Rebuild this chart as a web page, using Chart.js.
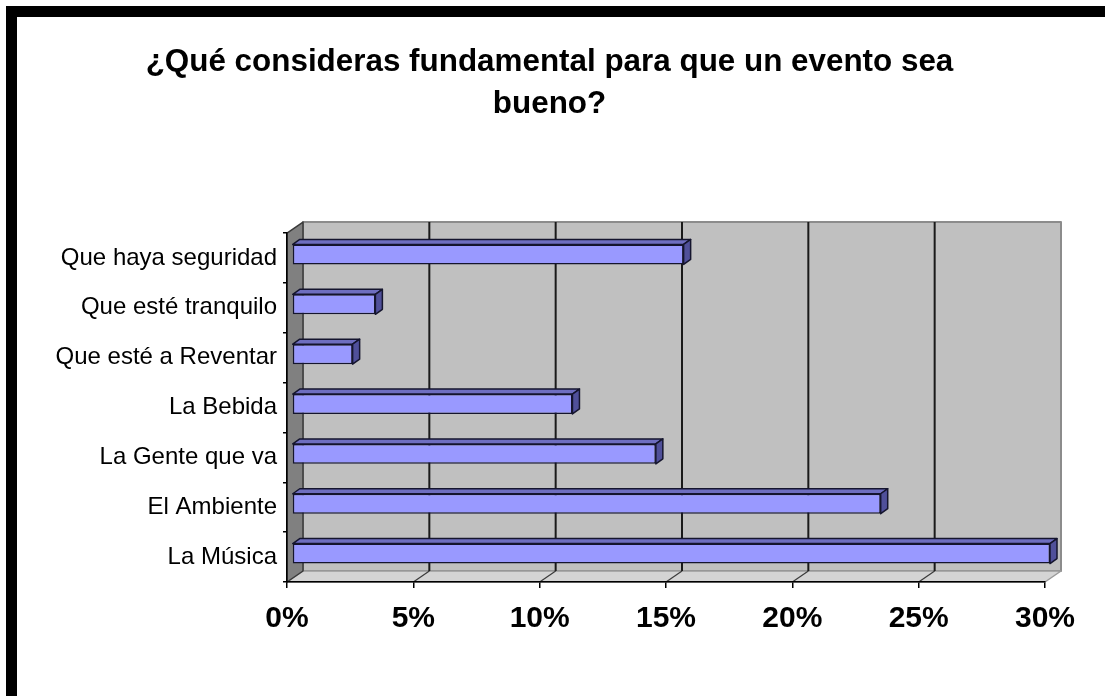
<!DOCTYPE html>
<html>
<head>
<meta charset="utf-8">
<title>Evento</title>
<script src="https://cdn.jsdelivr.net/npm/chart.js@4.4.1/dist/chart.umd.min.js"></script>
<style>
  html, body { margin: 0; padding: 0; background: #fff; }
  canvas { display: block; }
</style>
</head>
<body>
<canvas id="encuesta" width="1105" height="696"></canvas>
<script>
const tituloLineas = ['¿Qué consideras fundamental para que un evento sea', 'bueno?'];
const categorias = [
  'Que haya seguridad',
  'Que esté tranquilo',
  'Que esté a Reventar',
  'La Bebida',
  'La Gente que va',
  'El Ambiente',
  'La Música'
];
const porcentajes = [15.5, 3.3, 2.4, 11.1, 14.4, 23.3, 30.0];
const marcasX = [0, 5, 10, 15, 20, 25, 30];

const FUENTE = "'Liberation Sans', Arial, sans-serif";

// 3D look: how far the back wall sits behind the front axes,
// where the bars sit inside that depth, and how deep each bar is
const FONDO = { dx: 16, dy: -11 };
const BARRA_POS = { dx: 5, dy: -3.5 };
const BARRA_PROF = { dx: 7, dy: -5 };

function poly(ctx, pts, fill, stroke, lw) {
  ctx.beginPath();
  ctx.moveTo(pts[0][0], pts[0][1]);
  for (let i = 1; i < pts.length; i++) ctx.lineTo(pts[i][0], pts[i][1]);
  ctx.closePath();
  if (fill) { ctx.fillStyle = fill; ctx.fill(); }
  if (stroke) { ctx.strokeStyle = stroke; ctx.lineWidth = lw || 1; ctx.stroke(); }
}

function linea(ctx, x1, y1, x2, y2, color, lw) {
  ctx.beginPath();
  ctx.moveTo(x1, y1);
  ctx.lineTo(x2, y2);
  ctx.strokeStyle = color;
  ctx.lineWidth = lw;
  ctx.stroke();
}

// white page with the thick black frame on top and left
const marco = {
  id: 'marco',
  beforeDraw(chart) {
    const ctx = chart.ctx;
    ctx.save();
    ctx.fillStyle = '#ffffff';
    ctx.fillRect(0, 0, chart.width, chart.height);
    ctx.fillStyle = '#000000';
    ctx.fillRect(6, 6, chart.width - 6, 11);
    ctx.fillRect(6, 6, 11, chart.height - 6);
    ctx.restore();
  }
};

// back wall, side wall and floor with the gridlines
const paredes = {
  id: 'paredes',
  beforeDraw(chart) {
    const { ctx, chartArea: a, scales: { x } } = chart;
    const L = x.getPixelForValue(0), R = x.getPixelForValue(30);
    const T = a.top, B = a.bottom;
    const dx = FONDO.dx, dy = FONDO.dy;
    ctx.save();
    ctx.lineJoin = 'round';

    ctx.fillStyle = '#c0c0c0';
    ctx.fillRect(L + dx, T + dy, R - L, B - T);
    ctx.strokeStyle = '#8c8c8c';
    ctx.lineWidth = 2;
    ctx.strokeRect(L + dx, T + dy, R - L, B - T);

    poly(ctx, [[L, B], [R, B], [R + dx, B + dy], [L + dx, B + dy]], '#d4d4d4', '#9a9a9a', 1.5);
    poly(ctx, [[L, T], [L + dx, T + dy], [L + dx, B + dy], [L, B]], '#808080', '#3a3a3a', 1.5);

    x.ticks.forEach(t => {
      if (t.value <= 0 || t.value >= 30) return;
      const px = x.getPixelForValue(t.value);
      linea(ctx, px + dx, T + dy, px + dx, B + dy, '#1a1a1a', 2);
      linea(ctx, px, B, px + dx, B + dy, '#3a3a3a', 1.2);
    });
    ctx.restore();
  }
};

// bars are pushed into the depth and get a top and an end face
const barras3d = {
  id: 'barras3d',
  beforeDatasetsDraw(chart) {
    chart.ctx.save();
    chart.ctx.translate(BARRA_POS.dx, BARRA_POS.dy);
  },
  afterDatasetsDraw(chart) {
    const ctx = chart.ctx;
    const ddx = BARRA_PROF.dx, ddy = BARRA_PROF.dy;
    ctx.lineJoin = 'round';
    chart.getDatasetMeta(0).data.forEach(bar => {
      const { x, y, base, height } = bar.getProps(['x', 'y', 'base', 'height'], true);
      const arriba = y - height / 2, abajo = y + height / 2;
      poly(ctx, [[base, arriba], [x, arriba], [x + ddx, arriba + ddy], [base + ddx, arriba + ddy]],
        '#6e6ec0', '#15152e', 1.5);
      poly(ctx, [[x, arriba], [x + ddx, arriba + ddy], [x + ddx, abajo + ddy], [x, abajo]],
        '#50509a', '#15152e', 1.5);
    });
    ctx.restore();
  }
};

const ctx = document.getElementById('encuesta').getContext('2d');

new Chart(ctx, {
  type: 'bar',
  data: {
    labels: categorias,
    datasets: [{
      data: porcentajes,
      backgroundColor: '#9999ff',
      borderColor: '#15152e',
      borderWidth: 1.5,
      borderSkipped: false,
      barPercentage: 0.4,
      categoryPercentage: 1,
      clip: false
    }]
  },
  options: {
    indexAxis: 'y',
    responsive: false,
    devicePixelRatio: 1,
    animation: false,
    layout: {
      // near-equal side padding keeps the title centred on the page
      padding: { top: 0, right: 60, bottom: 0, left: 54 }
    },
    scales: {
      x: {
        min: 0,
        max: 30,
        afterBuildTicks: scale => {
          scale.ticks = marcasX.map(v => ({ value: v }));
        },
        afterFit: scale => { scale.height = 114; },
        grid: {
          drawOnChartArea: false,
          tickLength: 6,
          color: '#000000',
          lineWidth: 1.5
        },
        border: { color: '#000000', width: 1.5 },
        ticks: {
          color: '#000000',
          padding: 13,
          maxRotation: 0,
          font: { family: FUENTE, size: 30, weight: 'bold' },
          callback: value => value + '%'
        }
      },
      y: {
        afterFit: scale => { scale.width = 233; },
        grid: {
          drawOnChartArea: false,
          offset: true,
          tickLength: 4,
          color: '#000000',
          lineWidth: 1.5
        },
        border: { color: '#000000', width: 1.5 },
        ticks: {
          color: '#000000',
          padding: 6,
          font: { family: FUENTE, size: 24 }
        }
      }
    },
    plugins: {
      legend: { display: false },
      tooltip: { enabled: false },
      title: {
        display: true,
        text: tituloLineas,
        color: '#000000',
        font: { family: FUENTE, size: 31.4, weight: 'bold', lineHeight: 1.338 },
        padding: { top: 41, bottom: 108 }
      }
    }
  },
  plugins: [marco, paredes, barras3d]
});
</script>
</body>
</html>
